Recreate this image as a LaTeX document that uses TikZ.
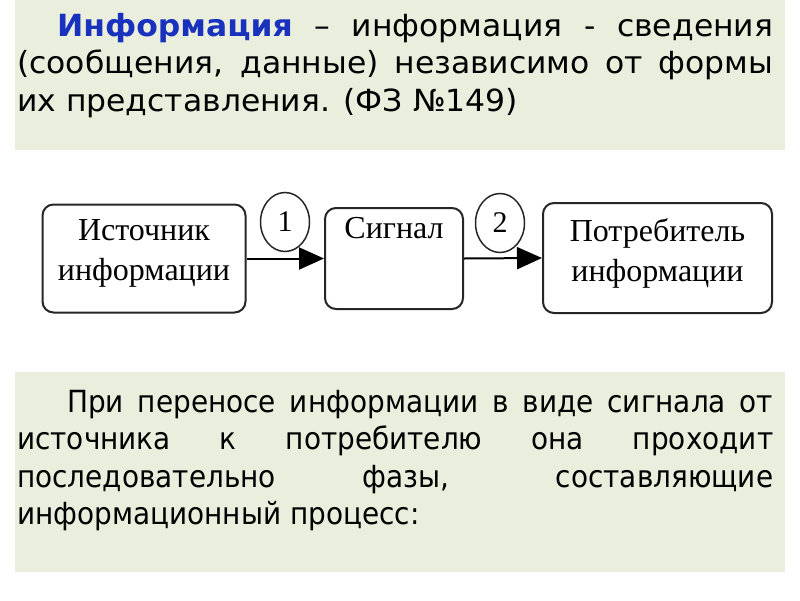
\documentclass[tikz,border=0pt]{standalone}
\usepackage{fontspec}
\setmainfont{Liberation Serif}
\newfontfamily\deffont[FakeStretch=1.03]{DejaVu Sans}
\newfontfamily\procfont[FakeStretch=0.915]{DejaVu Sans}
\usetikzlibrary{arrows.meta,shapes.geometric}
\definecolor{panel}{RGB}{234,239,221}
\definecolor{titleblue}{RGB}{25,50,190}
\newcommand{\lastline}[1]{\raisebox{0pt}[\height][\dimexpr\depth+10pt\relax]{#1}}
\begin{document}
\begin{tikzpicture}[x=1pt,y=-1pt,
  panelbox/.style={fill=panel,draw=none},
  procbox/.style={draw=black!85,line width=2pt,rounded corners=11pt,font=\fontsize{32}{40}\selectfont,align=center,inner sep=0pt},
  numcircle/.style={draw=black!85,line width=1.5pt,ellipse,minimum width=49pt,minimum height=59pt,inner sep=0pt,font=\fontsize{30}{30}\selectfont},
  flow/.style={line width=2pt,-{Triangle[length=25pt,width=22pt]}},
  slidetext/.style={anchor=base west,inner sep=0pt,text width=756pt,align=justify}
]
\useasboundingbox (0,0) rectangle (800,600);
\fill[white] (0,0) rectangle (800,600);
\path[panelbox] (15,0) rectangle (785,150);
\path[panelbox] (15,372) rectangle (785,572);

\node[slidetext, font=\deffont\fontsize{30.5}{37.5}\selectfont] (deftext) at (17,36) {\hspace*{40pt}{\bfseries\color{titleblue}Информация} – информация - сведения\linebreak (сообщения, данные) независимо от формы\linebreak их представления. (ФЗ №149)};

\node[procbox, minimum width=203pt, minimum height=108pt] (src) at (144,258.5) {Источник\\\lastline{информации}};
\node[procbox, minimum width=138pt, minimum height=101pt] (sig) at (394,258.5) {Сигнал\\\lastline{\strut}};
\node[procbox, minimum width=229pt, minimum height=110pt] (dst) at (657.5,258) {Потребитель\\\lastline{информации}};

\draw[flow] (src.east) -- (sig.west);
\draw[flow] (sig.east) -- (dst.west);

\node[numcircle] (c1) at (285,222) {1};
\node[numcircle] (c2) at (500,223) {2};

\node[slidetext, font=\procfont\fontsize{30.5}{37.5}\selectfont] (proctext) at (17,412) {\hspace*{50pt}При переносе информации в виде сигнала от\linebreak источника к потребителю она проходит\linebreak последовательно фазы, составляющие\linebreak информационный процесс:};
\end{tikzpicture}
\end{document}
